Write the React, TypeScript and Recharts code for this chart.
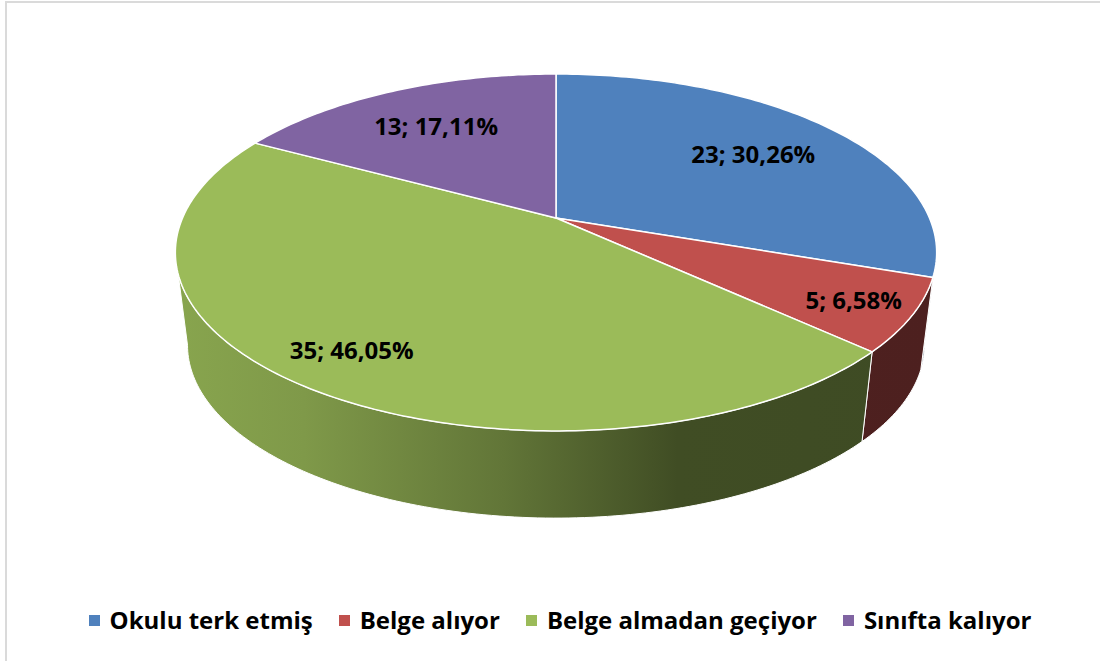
import { PieChart, Pie, Legend } from 'recharts';

const categories = ['Okulu terk etmiş', 'Belge alıyor', 'Belge almadan geçiyor', 'Sınıfta kalıyor'];
const counts = [23, 5, 35, 13];
const colors = ['#4f81bd', '#c0504d', '#9bbb59', '#8064a2'];

const data = categories.map((name, i) => ({ name, value: counts[i] }));

// fake 3D: tilted disc seen in perspective, with a wall below it
const PERSPECTIVE = 0.193;
const TILT = 0.46;
const DEPTH = 94;
const SHRINK = 0.968;
const RAD = Math.PI / 180;
const LABEL_FRACTION = [0.7, 0.85, 0.82, 0.7];
const FONT = '"Open Sans", "Noto Sans", sans-serif';

// theta: degrees clockwise from 12 o'clock
function project(cx: number, cy: number, r: number, theta: number, f = 1): [number, number] {
  const X = f * Math.sin(theta * RAD);
  const Z = f * Math.cos(theta * RAD);
  const w = 1 + PERSPECTIVE * Z;
  return [cx + (r * X) / w, cy - (r * TILT * Z) / w];
}

function lower(cx: number, cy: number, [x, y]: [number, number]): [number, number] {
  return [cx + SHRINK * (x - cx), cy + DEPTH + SHRINK * (y - cy)];
}

function steps(t1: number, t2: number) {
  const n = Math.max(2, Math.ceil(Math.abs(t2 - t1)));
  return Array.from({ length: n + 1 }, (_, k) => t1 + ((t2 - t1) * k) / n);
}

const toPath = (pts: [number, number][]) =>
  'M' + pts.map(([x, y]) => `${x.toFixed(2)},${y.toFixed(2)}`).join('L') + 'Z';

const renderSlice = (props: any) => {
  const { cx, cy, outerRadius, startAngle, endAngle, index } = props;
  const t1 = 90 - startAngle;
  const t2 = 90 - endAngle;
  const rim = steps(t1, t2).map((t) => project(cx, cy, outerRadius, t));
  const top = toPath([[cx, cy], ...rim]);

  const edge = Math.acos(-PERSPECTIVE) / RAD;
  const lo = Math.max(t1, edge);
  const hi = Math.min(t2, 360 - edge);
  let side: string | null = null;
  if (hi > lo) {
    const upper = steps(lo, hi).map((t) => project(cx, cy, outerRadius, t));
    const bottom = upper.map((p) => lower(cx, cy, p)).reverse();
    side = toPath([...upper, ...bottom]);
  }

  return (
    <g key={`slice-${index}`}>
      {side && <path d={side} fill={`url(#side-${index})`} stroke="#ffffff" strokeWidth={1} />}
      <path d={top} fill={colors[index]} stroke="#ffffff" strokeWidth={1.5} strokeLinejoin="round" />
    </g>
  );
};

const renderValue = (props: any) => {
  const { cx, cy, outerRadius, midAngle, value, percent, index } = props;
  const [x, y] = project(cx, cy, outerRadius, 90 - midAngle, LABEL_FRACTION[index]);
  const pct = (percent * 100).toFixed(2).replace('.', ',');
  return (
    <text
      key={`value-${index}`}
      x={x}
      y={y}
      textAnchor="middle"
      dominantBaseline="central"
      fill="#000000"
      fontFamily={FONT}
      fontWeight={700}
      fontSize={24}
    >
      {`${value}; ${pct}%`}
    </text>
  );
};

const shade = (hex: string, k: number) => {
  const n = parseInt(hex.slice(1), 16);
  const c = [(n >> 16) & 255, (n >> 8) & 255, n & 255].map((v) => Math.round(v * k));
  return `rgb(${c.join(',')})`;
};

const renderLegend = (props: any) => {
  const items = (props.payload || [])
    .filter((e: any) => e.type !== 'none')
    .filter((e: any, i: number, arr: any[]) => arr.findIndex((o) => o.value === e.value) === i)
    .sort((a: any, b: any) => categories.indexOf(a.value) - categories.indexOf(b.value));
  return (
    <div
      style={{
        display: 'flex',
        justifyContent: 'center',
        alignItems: 'center',
        fontFamily: FONT,
        fontWeight: 700,
        fontSize: 24,
        lineHeight: '28px',
        color: '#000000',
        whiteSpace: 'nowrap',
      }}
    >
      {items.map((entry: any, i: number) => (
        <div
          key={`legend-${i}`}
          style={{ display: 'flex', alignItems: 'center', marginRight: i < items.length - 1 ? 26 : 0 }}
        >
          <span
            style={{
              width: 11,
              height: 11,
              background: colors[categories.indexOf(entry.value)],
              marginRight: 10,
              display: 'inline-block',
            }}
          />
          <span>{entry.value}</span>
        </div>
      ))}
    </div>
  );
};

export default function App() {
  return (
    <div
      style={{
        position: 'absolute',
        left: 0,
        top: 0,
        width: 1100,
        height: 661,
        overflow: 'hidden',
        background: '#ffffff',
      }}
    >
      <div
        style={{
          position: 'absolute',
          left: 5,
          top: 1,
          width: 1200,
          height: 800,
          border: '2px solid #dadada',
        }}
      />
      <div style={{ position: 'absolute', left: 0, top: 0 }}>
        <PieChart width={1100} height={661} margin={{ top: 0, right: 0, bottom: 0, left: 0 }}>
          <defs>
            {colors.map((c, i) => (
              <linearGradient key={c} id={`side-${i}`} gradientUnits="userSpaceOnUse" x1={174} y1={0} x2={937} y2={0}>
                <stop offset="0" stopColor={shade(c, 0.88)} />
                <stop offset="0.17" stopColor={shade(c, 0.82)} />
                <stop offset="0.43" stopColor={shade(c, 0.63)} />
                <stop offset="0.66" stopColor={shade(c, 0.41)} />
                <stop offset="1" stopColor={shade(c, 0.4)} />
              </linearGradient>
            ))}
          </defs>
          <Pie
            data={data}
            dataKey="value"
            nameKey="name"
            cx={556}
            cy={218}
            outerRadius={373.5}
            startAngle={90}
            endAngle={-270}
            fill="transparent"
            stroke="none"
            label={renderSlice}
            labelLine={false}
            isAnimationActive={false}
          />
          <Pie
            data={data}
            dataKey="value"
            nameKey="name"
            cx={556}
            cy={218}
            outerRadius={373.5}
            startAngle={90}
            endAngle={-270}
            fill="transparent"
            stroke="none"
            label={renderValue}
            labelLine={false}
            legendType="none"
            isAnimationActive={false}
          />
          <Legend
            content={renderLegend}
            verticalAlign="bottom"
            wrapperStyle={{ top: 606, left: 10, width: 1100, bottom: 'auto' }}
          />
        </PieChart>
      </div>
    </div>
  );
}
